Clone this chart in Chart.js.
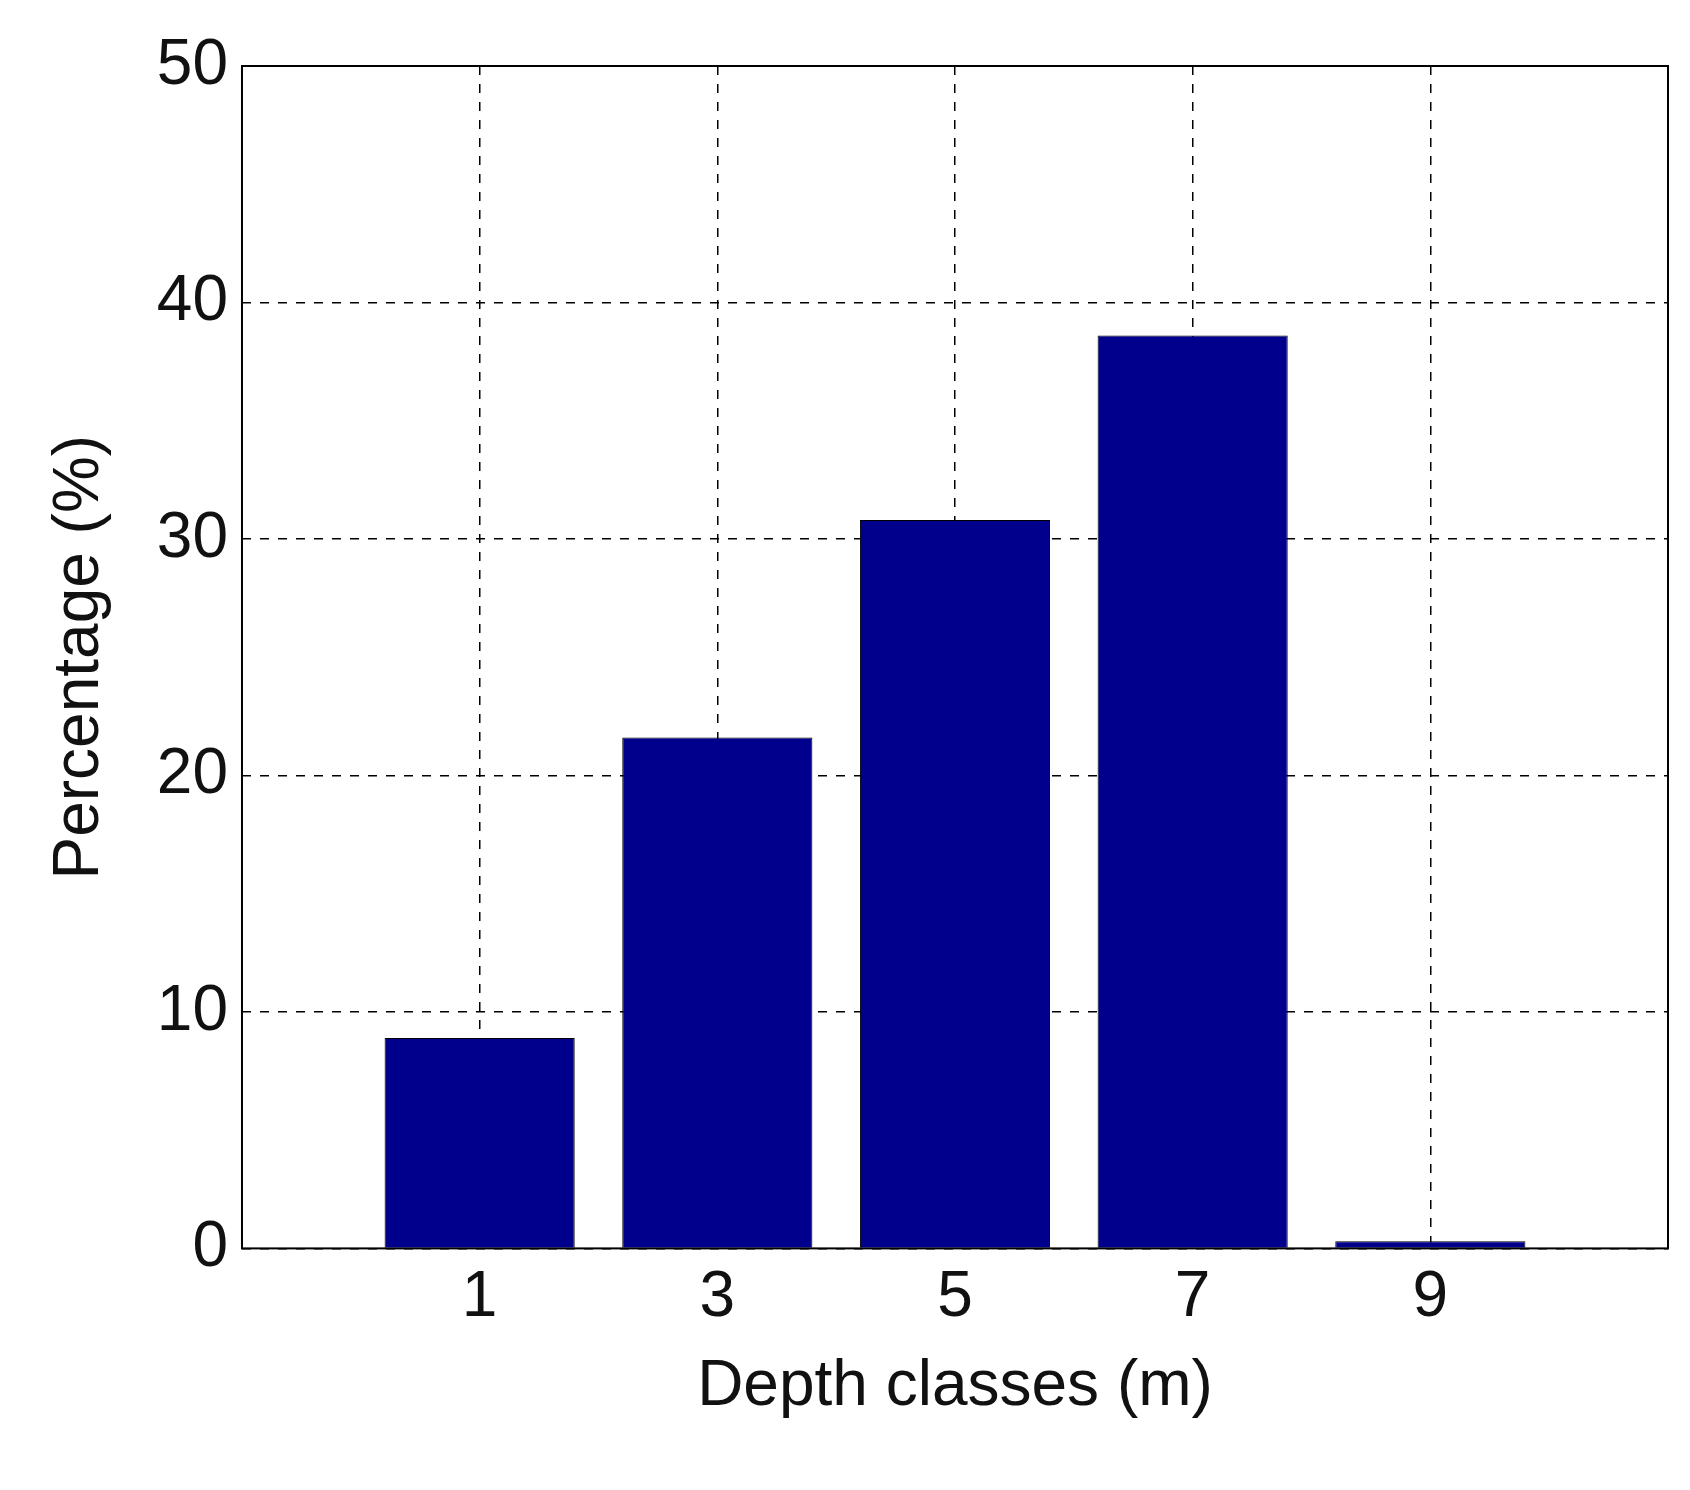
<!DOCTYPE html>
<html>
<head>
<meta charset="utf-8">
<script src="https://cdn.jsdelivr.net/npm/chart.js@4"></script>
<style>
  html, body { margin: 0; padding: 0; background: #fff; }
  #wrap { width: 1690px; height: 1490px; }
</style>
</head>
<body>
<div id="wrap"><canvas id="depthChart"></canvas></div>
<script>
// Depth class centres (m) and share of observations (%)
var depthClasses = [1, 3, 5, 7, 9];
var percentages = [8.9, 21.6, 30.8, 38.6, 0.3];
var xTicks = [1, 3, 5, 7, 9];
var yTicks = [0, 10, 20, 30, 40, 50];

var font = "'Liberation Sans', Arial, sans-serif";

// dashed grid drawn by the scales, solid frame drawn here
var framePlugin = {
    id: "frame",
    afterDraw: function (chart) {
        var a = chart.chartArea, c = chart.ctx;
        c.save();
        c.strokeStyle = "#000";
        c.lineWidth = 2;
        c.strokeRect(a.left, a.top, a.right - a.left, a.bottom - a.top);
        c.restore();
    }
};

var ctx = document.getElementById("depthChart").getContext("2d");
new Chart(ctx, {
    type: "bar",
    data: {
        datasets: [{
            data: depthClasses.map(function (d, i) { return { x: d, y: percentages[i] }; }),
            backgroundColor: "#00008C",
            borderColor: "#000000",
            borderWidth: 1,
            barPercentage: 0.8,
            categoryPercentage: 1.0,
        }],
    },
    options: {
        responsive: true,
        maintainAspectRatio: false,
        animation: false,
        layout: { padding: { top: 66, right: 22, bottom: 60, left: 38 } },
        plugins: { legend: { display: false }, tooltip: { enabled: false } },
        scales: {
            x: {
                type: "linear",
                min: -1,
                max: 11,
                offset: false,
                afterBuildTicks: function (axis) { axis.ticks = xTicks.map(function (v) { return { value: v }; }); },
                grid: { color: "#000", lineWidth: 1.5, drawTicks: false, offset: false },
                border: { display: false, dash: [9, 9] },
                ticks: { color: "#111", font: { family: font, size: 64 }, padding: 12 },
                title: { display: true, text: "Depth classes (m)", color: "#111", font: { family: font, size: 64 }, padding: { top: 0 } },
            },
            y: {
                min: 0,
                max: 50,
                afterBuildTicks: function (axis) { axis.ticks = yTicks.map(function (v) { return { value: v }; }); },
                grid: { color: "#000", lineWidth: 1.5, drawTicks: false },
                border: { display: false, dash: [9, 9] },
                ticks: { color: "#111", font: { family: font, size: 64 }, padding: 14 },
                title: { display: true, text: "Percentage (%)", color: "#111", font: { family: font, size: 64 }, padding: { bottom: 24 } },
            },
        },
    },
    plugins: [framePlugin],
});
</script>
</body>
</html>
